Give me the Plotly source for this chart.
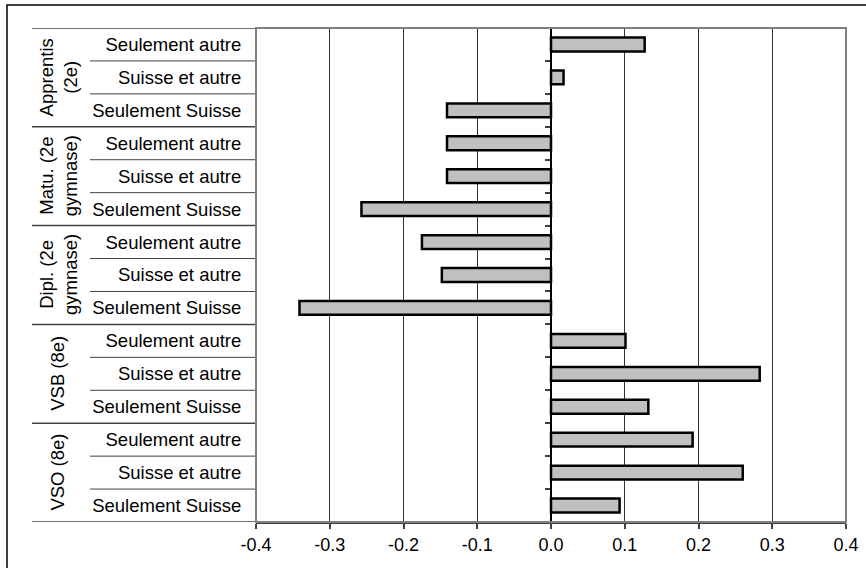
import plotly.graph_objects as go

# Groups (outer category level) and the sub-categories inside each group
groups = ["Apprentis<br>(2e)", "Matu. (2e<br>gymnase)", "Dipl. (2e<br>gymnase)", "VSB (8e)", "VSO (8e)"]
subcats = ["Seulement autre", "Suisse et autre", "Seulement Suisse"]

# Values per group, in the order of subcats
apprentis = [0.127, 0.017, -0.141]
matu = [-0.141, -0.141, -0.257]
dipl = [-0.175, -0.148, -0.341]
vsb = [0.101, 0.283, 0.132]
vso = [0.192, 0.260, 0.093]
group_values = [apprentis, matu, dipl, vsb, vso]

x_ticks = [-0.4, -0.3, -0.2, -0.1, 0.0, 0.1, 0.2, 0.3, 0.4]
x_range = [-0.4, 0.4]

# Flatten into one row per bar, top to bottom
labels, values = [], []
for vals in group_values:
    for s, v in zip(subcats, vals):
        labels.append(s)
        values.append(v)
n = len(values)
rows = list(range(n))
y_range = [n - 0.5, -0.5]

W, H = 866, 568
ML, MR, MT, MB = 256, 20, 28, 46
PW, PH = W - ML - MR, H - MT - MB


def px_x(px):
    return (px - ML) / PW


def px_y(py):
    return (H - MB - py) / PH


FONT = "Liberation Sans, Arial, sans-serif"

fig = go.Figure()
fig.add_trace(go.Bar(
    x=values, y=rows, orientation="h", width=0.42,
    marker=dict(color="#C0C0C0", line=dict(color="#000000", width=2.5)),
    showlegend=False, hoverinfo="x",
))
# invisible trace so the zero-crossing category axis is drawn
fig.add_trace(go.Scatter(x=[0], y=[0], yaxis="y2", mode="markers",
                         marker=dict(opacity=0), showlegend=False, hoverinfo="skip"))

shapes = []
# category dividers in the left label area
for b in range(n + 1):
    yb = b - 0.5
    is_group = b % 3 == 0
    shapes.append(dict(
        type="line", xref="paper", yref="y",
        x0=px_x(32 if is_group else 90), x1=px_x(ML), y0=yb, y1=yb,
        line=dict(color="#404040", width=1.5 if is_group else 1),
    ))
# plot area frame
shapes.append(dict(type="rect", xref="paper", yref="paper", x0=0, x1=1, y0=0, y1=1,
                   line=dict(color="#808080", width=2), layer="above"))
# outer chart border
shapes.append(dict(type="rect", xref="paper", yref="paper",
                   x0=px_x(7), x1=px_x(W + 20), y0=px_y(H + 20), y1=px_y(5),
                   line=dict(color="#000000", width=1.5)))

annotations = []
for gi, g in enumerate(groups):
    annotations.append(dict(
        text=g, xref="paper", yref="y", x=px_x(58), y=gi * 3 + 1,
        textangle=-90, showarrow=False, xanchor="center", yanchor="middle",
        font=dict(family=FONT, size=18.5, color="#000000"),
    ))

fig.update_layout(
    width=W, height=H,
    margin=dict(l=ML, r=MR, t=MT, b=MB, pad=0, autoexpand=False),
    paper_bgcolor="#FFFFFF", plot_bgcolor="#FFFFFF",
    font=dict(family=FONT, size=18, color="#000000"),
    shapes=shapes, annotations=annotations,
    xaxis=dict(
        range=x_range, tickvals=x_ticks, ticktext=[f"{t:.1f}" for t in x_ticks],
        automargin=False,
        showgrid=True, gridcolor="#333333", gridwidth=1, zeroline=False,
        showline=True, linecolor="#404040", linewidth=2,
        ticks="outside", ticklen=5, tickcolor="#404040", tickwidth=1.5,
        tickfont=dict(family=FONT, size=18, color="#000000"),
    ),
    yaxis=dict(
        range=y_range, tickvals=rows, ticktext=labels, automargin=False,
        showgrid=False, zeroline=False, showline=False,
        ticks="outside", ticklen=10, tickcolor="rgba(0,0,0,0)",
        tickfont=dict(family=FONT, size=18.5, color="#000000"),
    ),
    yaxis2=dict(
        range=y_range, overlaying="y", anchor="free", automargin=False,
        position=(0 - x_range[0]) / (x_range[1] - x_range[0]), side="left",
        tickvals=[b - 0.5 for b in range(n + 1)], showticklabels=False,
        showgrid=False, zeroline=False,
        showline=True, linecolor="#000000", linewidth=1.5,
        ticks="outside", ticklen=5, tickcolor="#404040", tickwidth=1.5,
    ),
)

fig.write_html("out.html")
